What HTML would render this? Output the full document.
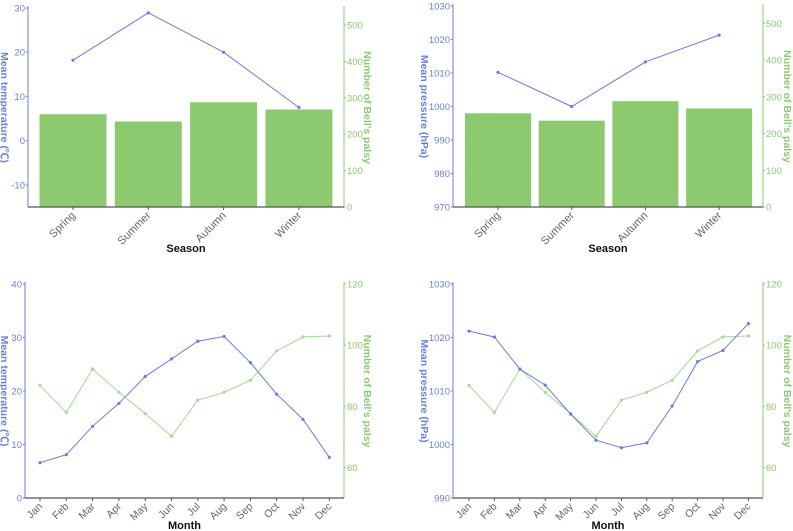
<!DOCTYPE html>
<html><head><meta charset="utf-8"><style>
body{margin:0;background:#fff;font-family:"Liberation Sans","Noto Sans CJK SC",sans-serif}
svg{display:block}
</style></head><body>
<svg id="c" width="793" height="531" viewBox="0 0 793 531" xmlns="http://www.w3.org/2000/svg"></svg>
<script>
const seasons=["Spring","Summer","Autumn","Winter"];
const seasonTemp=[18.2,28.9,20,7.5];
const seasonPressure=[1010.2,1000,1013.3,1021.3];
const seasonCases=[255,235,288,268];
const months=["Jan","Feb","Mar","Apr","May","Jun","Jul","Aug","Sep","Oct","Nov","Dec"];
const monthTemp=[6.6,8.1,13.4,17.7,22.7,26,29.3,30.2,25.3,19.4,14.7,7.6];
const monthPressure=[1021.2,1020.1,1014.1,1011.1,1005.7,1000.8,999.4,1000.3,1007.2,1015.5,1017.6,1022.6];
const monthCases=[86.8,78,92.2,84.6,77.6,70.2,82,84.6,88.5,98.1,102.7,103];
const tempTicksS=[-10,0,10,20,30];
const presTicksS=[970,980,990,1000,1010,1020,1030];
const caseTicksS=[0,100,200,300,400,500];
const tempTicksM=[0,10,20,30,40];
const presTicksM=[990,1000,1010,1020,1030];
const caseTicksM=[60,80,100,120];

const svg=document.getElementById('c');
const NS="http://www.w3.org/2000/svg";
const BLUE="#6b7fd4",GREEN="#8dc96f",GRAY="#666";
function mk(tag,attrs,parent,name){const e=document.createElementNS(NS,tag);for(const k in attrs)e.setAttribute(k,attrs[k]);


(parent||svg).appendChild(e);return e;}
function txt(s,attrs,parent,name){const e=mk('text',attrs,parent,name);e.textContent=s;return e;}

function panel(p){
  const g=mk('g',{},svg,p.name);
  const yL=v=>p.y1+(p.lmax-v)/(p.lmax-p.lmin)*(p.y0-p.y1);
  const yR=v=>p.y1+(p.rmax-v)/(p.rmax-p.rmin)*(p.y0-p.y1);
  const xC=i=>p.c0+i*p.step;
  if(p.bars){p.bars.forEach((v,i)=>{mk('rect',{x:xC(i)-p.bw/2,y:yR(v),width:p.bw,height:yR(p.rmin)-yR(v),fill:GREEN},g,'bar-'+p.cats[i].toLowerCase());});}
  mk('line',{x1:p.xl,y1:p.y1-2,x2:p.xl,y2:p.y0,stroke:BLUE,'stroke-width':1},g,'left-y-axis');
  mk('line',{x1:p.xr,y1:p.y1-2,x2:p.xr,y2:p.y0,stroke:GREEN,'stroke-width':1},g,'right-y-axis');
  mk('line',{x1:p.xl,y1:p.y0,x2:p.xr,y2:p.y0,stroke:"#555",'stroke-width':1.2},g,'x-axis');
  p.lt.forEach(v=>{const y=yL(v);mk('line',{x1:p.xl-2,y1:y,x2:p.xl,y2:y,stroke:BLUE},g,'left-tick');
    txt(v,{x:p.xl-3,y:y+3.5,'text-anchor':'end','font-size':9.5,fill:BLUE},g,'left-tick-label');});
  p.rt.forEach(v=>{const y=yR(v);mk('line',{x1:p.xr,y1:y,x2:p.xr+2,y2:y,stroke:GREEN},g,'right-tick');
    txt(v,{x:p.xr+3,y:y+3.5,'font-size':9.5,fill:GREEN},g,'right-tick-label');});
  p.cats.forEach((c,i)=>{const x=xC(i);mk('line',{x1:x,y1:p.y0,x2:x,y2:p.y0+3,stroke:"#555"},g,'x-tick');
    txt(c,{x:x+3,y:p.y0+9,'text-anchor':'end','font-size':p.bars?11:10.5,fill:GRAY,transform:`rotate(-45 ${x+3} ${p.y0+9})`},g,'x-tick-label');});
  const drawLine=(vals,f,col,nm)=>{mk('polyline',{points:vals.map((v,i)=>xC(i)+','+f(v)).join(' '),fill:'none',stroke:col,'stroke-width':1},g,nm);
    vals.forEach((v,i)=>mk('circle',{cx:xC(i),cy:f(v),r:1.6,fill:col},g,nm+'-point'));};
  if(p.rline)drawLine(p.rline,yR,"#a9d69a",'cases-line');
  drawLine(p.lline,yL,BLUE,'mean-line');
  const my=(p.y0+p.y1)/2;
  txt(p.ltitle,{x:p.ltx,y:my,'text-anchor':'middle','font-size':10.5,'font-weight':'bold',fill:BLUE,transform:`rotate(90 ${p.ltx} ${my})`},g,'left-y-axis-title');
  txt("Number of Bell's palsy",{x:p.rtx,y:my,'text-anchor':'middle','font-size':10.5,'font-weight':'bold',fill:GREEN,transform:`rotate(90 ${p.rtx} ${my})`},g,'right-y-axis-title');
  txt(p.xtitle,{x:(p.xl+p.xr)/2,y:p.xty,'text-anchor':'middle','font-size':11,'font-weight':'bold',fill:'#111'},g,'x-axis-title');
}
panel({name:'season-temperature-panel',cats:seasons,bars:seasonCases,lline:seasonTemp,xl:28,xr:344,y0:207,y1:8,lmin:-15,lmax:30,rmin:0,rmax:547,
  lt:tempTicksS,rt:caseTicksS,c0:73,step:75.3,bw:67,ltitle:"Mean temperature (℃)",ltx:1,rtx:364,xtitle:"Season",xty:252});
panel({name:'season-pressure-panel',cats:seasons,bars:seasonCases,lline:seasonPressure,xl:453,xr:763,y0:207,y1:6,lmin:970,lmax:1030,rmin:0,rmax:547,
  lt:presTicksS,rt:caseTicksS,c0:498,step:73.7,bw:66,ltitle:"Mean pressure (hPa)",ltx:421,rtx:784,xtitle:"Season",xty:252});
panel({name:'month-temperature-panel',cats:months,rline:monthCases,lline:monthTemp,xl:25,xr:344,y0:498,y1:284,lmin:0,lmax:40,rmin:50,rmax:120,
  lt:tempTicksM,rt:caseTicksM,c0:40,step:26.3,ltitle:"Mean temperature (℃)",ltx:1,rtx:364,xtitle:"Month",xty:529});
panel({name:'month-pressure-panel',cats:months,rline:monthCases,lline:monthPressure,xl:453,xr:763,y0:498,y1:284,lmin:990,lmax:1030,rmin:50,rmax:120,
  lt:presTicksM,rt:caseTicksM,c0:469,step:25.4,ltitle:"Mean pressure (hPa)",ltx:421,rtx:784,xtitle:"Month",xty:529});
</script>
</body></html>
